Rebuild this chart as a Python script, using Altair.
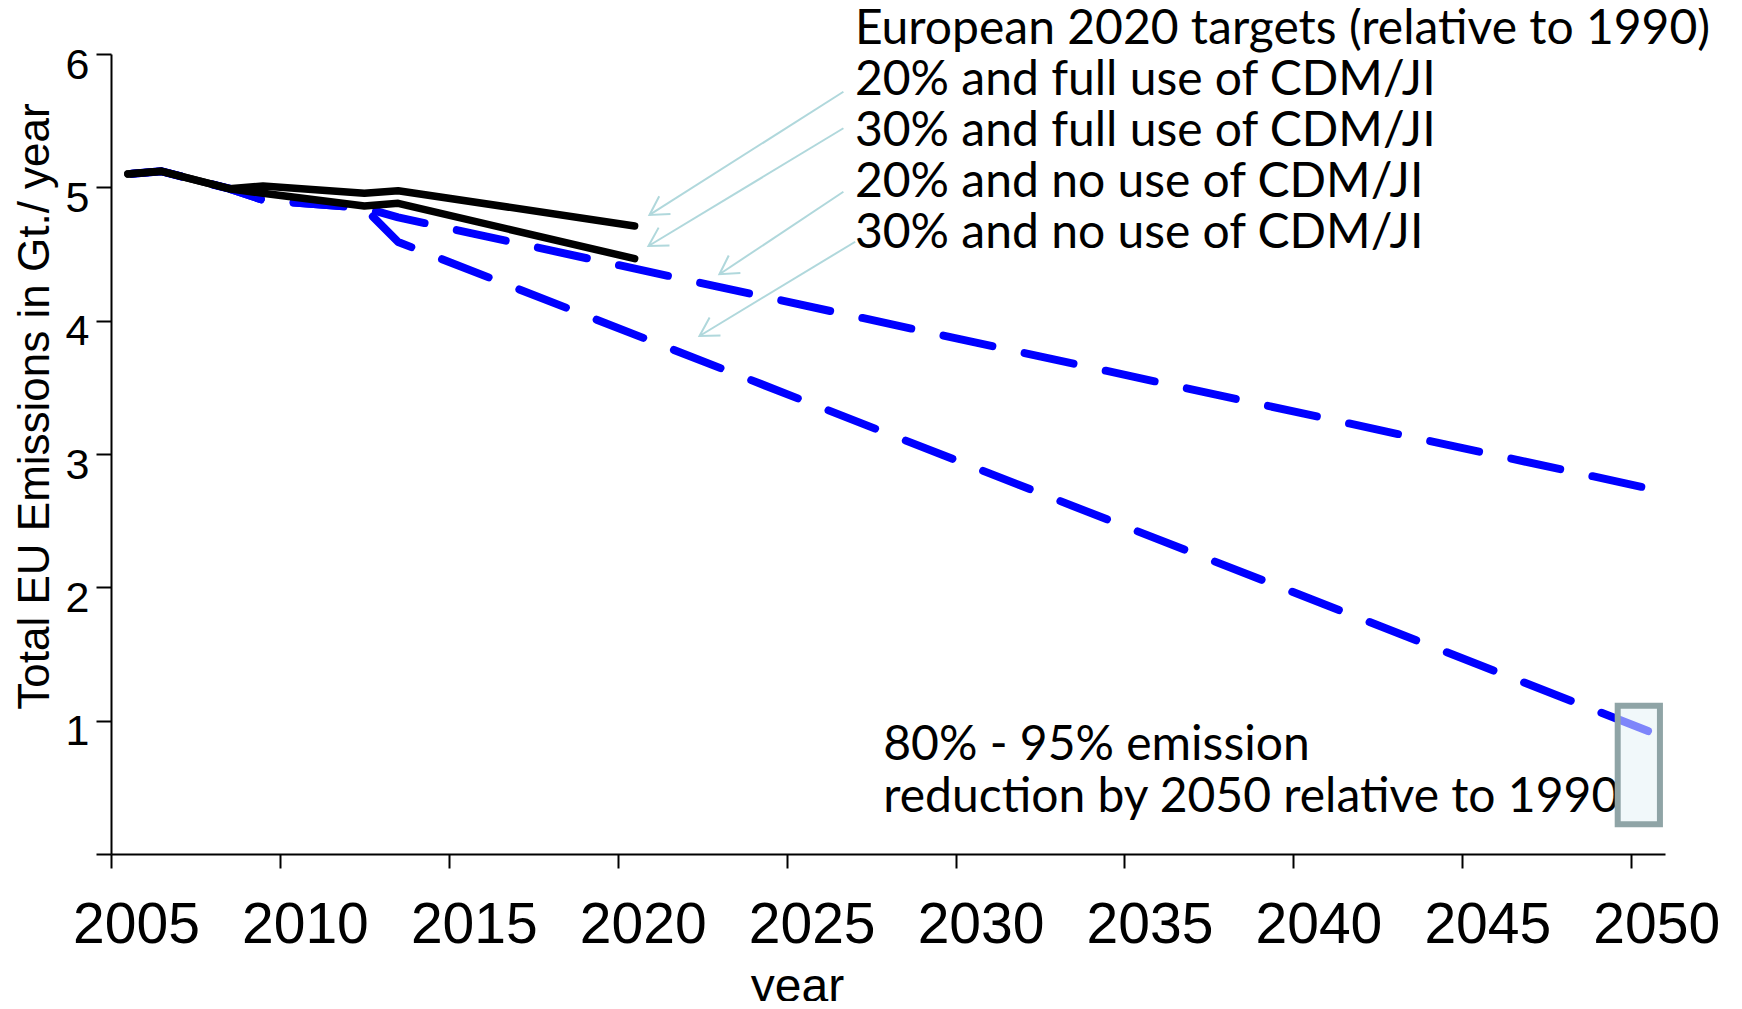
import math
import altair as alt
import pandas as pd

# ---- data ----
years_full = [2005.5, 2006.5, 2008.5, 2009.5, 2012.5, 2013.5, 2020.5]
full_cdm_20 = [5.10, 5.12, 4.99, 5.01, 4.955, 4.975, 4.71]
full_cdm_30 = [5.10, 5.12, 4.99, 4.955, 4.86, 4.88, 4.465]

years_no = [2005.5, 2006.5, 2008.5, 2009.5, 2012.5, 2013.5, 2050.5]
no_cdm_20 = [5.10, 5.12, 4.99, 4.905, 4.845, 4.775, 2.743]
no_cdm_30 = [5.10, 5.12, 4.99, 4.905, 4.845, 4.59, 0.922]

x_ticks = [2005, 2010, 2015, 2020, 2025, 2030, 2035, 2040, 2045, 2050]
y_ticks = [0, 1, 2, 3, 4, 5, 6]

legend_lines = [
    "European 2020 targets (relative to 1990)",
    "20% and full use of CDM/JI",
    "30% and full use of CDM/JI",
    "20% and no use of CDM/JI",
    "30% and no use of CDM/JI",
]
legend_anchor = (2027.02, 6.073)

box_note = ["80% - 95% emission", "reduction by 2050 relative to 1990"]
box_note_anchor = (2027.86, 0.705)

# target range box for 2050 (80%-95% below 1990)
box_year = [2049.6, 2050.85]
box_val = [0.223, 1.112]

# arrows from the legend lines to the curves
arrow_tail_year = [2026.68, 2026.68, 2026.68, 2027.03]
arrow_tail_val = [5.717, 5.443, 4.967, 4.592]
arrow_tip_year = [2020.94, 2020.91, 2023.01, 2022.42]
arrow_tip_val = [4.793, 4.560, 4.348, 3.885]

# ---- layout ----
W, H = 1554, 800
X_DOMAIN = [2005, 2051]
Y_DOMAIN = [0, 6]
px_per_year = W / (X_DOMAIN[1] - X_DOMAIN[0])
px_per_unit = H / (Y_DOMAIN[1] - Y_DOMAIN[0])

xs = alt.Scale(domain=X_DOMAIN, nice=False, zero=False)
ys = alt.Scale(domain=Y_DOMAIN, nice=False, zero=False)

black_df = pd.DataFrame(
    {"year": years_full * 2,
     "value": full_cdm_20 + full_cdm_30,
     "series": ["20% full"] * len(years_full) + ["30% full"] * len(years_full)}
)
blue_df = pd.DataFrame(
    {"year": years_no * 2,
     "value": no_cdm_20 + no_cdm_30,
     "series": ["20% no"] * len(years_no) + ["30% no"] * len(years_no)}
)

x_axis = alt.Axis(
    values=x_ticks, format="d", title="year",
    labelFont="Liberation Sans", labelFontSize=57, labelColor="black",
    labelBaseline="alphabetic", labelPadding=74, labelOffset=25, labelFlush=False,
    labelOverlap=False,
    tickSize=14, tickWidth=2, tickColor="black",
    domainColor="black", domainWidth=2, grid=False,
    titleFont="Liberation Sans", titleFontSize=48, titleFontWeight="normal",
    titleColor="black", titleX=686, titleY=147, titleAlign="center",
    titleBaseline="alphabetic", titleAnchor="start",
)
y_axis = alt.Axis(
    values=y_ticks, format="d", title="Total EU Emissions in Gt./ year",
    labelExpr="datum.value == 0 ? '' : datum.label",
    labelFont="Liberation Sans", labelFontSize=43, labelColor="black",
    labelBaseline="alphabetic", labelOffset=24, labelPadding=7, labelFlush=False,
    labelOverlap=False,
    tickSize=15, tickWidth=2, tickColor="black",
    domainColor="black", domainWidth=2, grid=False,
    titleFont="Liberation Sans", titleFontSize=44, titleFontWeight="normal",
    titleColor="black", titleAngle=270, titleX=-63, titleY=352,
    titleAlign="center", titleBaseline="alphabetic", titleAnchor="start",
)

blue = alt.Chart(blue_df).mark_line(
    color="#0000ff", strokeWidth=8, strokeCap="round", strokeJoin="round",
    strokeDash=[50, 33], strokeDashOffset=79, opacity=1,
).encode(
    x=alt.X("year:Q", scale=xs, axis=x_axis),
    y=alt.Y("value:Q", scale=ys, axis=y_axis),
    detail="series:N",
)

black = alt.Chart(black_df).mark_line(
    color="black", strokeWidth=7.5, strokeCap="round", strokeJoin="round", opacity=1,
).encode(
    x=alt.X("year:Q", scale=xs),
    y=alt.Y("value:Q", scale=ys),
    detail="series:N",
)

# arrows
angles = []
for ty, tv, hy, hv in zip(arrow_tail_year, arrow_tail_val, arrow_tip_year, arrow_tip_val):
    dx = (hy - ty) * px_per_year
    dy = -(hv - tv) * px_per_unit
    angles.append(math.degrees(math.atan2(dy, dx)) % 360)

arrow_df = pd.DataFrame({
    "ty": arrow_tail_year, "tv": arrow_tail_val,
    "hy": arrow_tip_year, "hv": arrow_tip_val, "angle": angles,
})
ARROW_COLOR = "#b0d8dc"
shafts = alt.Chart(arrow_df).mark_rule(color=ARROW_COLOR, strokeWidth=2).encode(
    x=alt.X("ty:Q", scale=xs), y=alt.Y("tv:Q", scale=ys),
    x2="hy:Q", y2="hv:Q",
)
heads = alt.Chart(arrow_df).mark_point(
    shape="M -0.866 -0.5 L 0 0 L -0.866 0.5", filled=False,
    color=ARROW_COLOR, strokeWidth=2, size=1764, opacity=1,
).encode(
    x=alt.X("hy:Q", scale=xs), y=alt.Y("hv:Q", scale=ys),
    angle=alt.Angle("angle:Q", scale=None),
)

legend_df = pd.DataFrame({"x": [legend_anchor[0]], "y": [legend_anchor[1]],
                          "t": ["\n".join(legend_lines)]})
legend_text = alt.Chart(legend_df).mark_text(
    align="left", baseline="alphabetic", font="Lato", fontSize=48,
    lineHeight=51, lineBreak="\n", color="black",
).encode(x=alt.X("x:Q", scale=xs), y=alt.Y("y:Q", scale=ys), text="t:N")

note_df = pd.DataFrame({"x": [box_note_anchor[0]], "y": [box_note_anchor[1]],
                        "t": ["\n".join(box_note)]})
note_text = alt.Chart(note_df).mark_text(
    align="left", baseline="alphabetic", font="Lato", fontSize=48,
    lineHeight=51.7, lineBreak="\n", color="black",
).encode(x=alt.X("x:Q", scale=xs), y=alt.Y("y:Q", scale=ys), text="t:N")

box_df = pd.DataFrame({"x1": [box_year[0]], "x2": [box_year[1]],
                       "y1": [box_val[0]], "y2": [box_val[1]]})
box = alt.Chart(box_df).mark_rect(
    fill="#e6f2f6", fillOpacity=0.55, stroke="#8fa4a6", strokeWidth=6,
).encode(
    x=alt.X("x1:Q", scale=xs), x2="x2:Q",
    y=alt.Y("y1:Q", scale=ys), y2="y2:Q",
)

chart = alt.layer(blue, black, shafts, heads, legend_text, note_text, box).properties(
    width=W, height=H,
    padding={"left": 103, "top": 46, "right": 69, "bottom": 147},
    autosize=alt.AutoSizeParams(type="none"),
    background="white",
).configure_view(strokeWidth=0)

chart.save("out.html", embed_options={"renderer": "svg", "actions": False})
